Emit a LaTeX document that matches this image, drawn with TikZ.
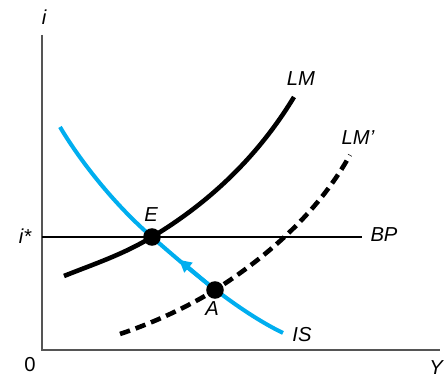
\documentclass[tikz,border=0pt]{standalone}
\usepackage{fontspec}
\setmainfont{Liberation Sans}
\usepackage{xcolor}
\usetikzlibrary{arrows.meta,calc}
\definecolor{iscyan}{RGB}{0,174,239}
\definecolor{axisgray}{RGB}{85,85,85}
\tikzset{
  curvelabel/.style={font=\fontsize{11.5}{13}\selectfont\itshape, inner sep=0pt},
  eqdot/.style={circle, fill=black, inner sep=0pt, minimum size=10pt},
  lmcurve/.style={line width=2.6pt},
  iscurve/.style={line width=2.3pt, iscyan}
}

\begin{document}
\begin{tikzpicture}[x=0.02cm, y=-0.02cm]
    \useasboundingbox (0,0) rectangle (444,377);
    % --- axes ---
    \coordinate (top) at (42,35);
    \coordinate (orig) at (42,350);
    \coordinate (right) at (440,350);
    \draw[axisgray, line width=1.2pt] (top) -- (orig) -- (right);
    \node[curvelabel] (ilab) at (44,17) {i};
    \node[curvelabel, font=\fontsize{11.5}{13}\selectfont] (zero) at (30,365) {0};
    \node[curvelabel] (ylab) at (436,368) {Y};

    % --- BP line at i* ---
    \coordinate (bpl) at (42,237);
    \coordinate (bpr) at (362,237);
    \draw[line width=1.2pt] (bpl) -- (bpr);
    \node[curvelabel] (istar) at (25,236) {i*};
    \node[curvelabel] (bplab) at (384,235) {BP};

    % --- the two equilibrium points ---
    \coordinate (E) at (152,237);
    \coordinate (A) at (215,290);

    % --- IS (blue) ---
    \coordinate (isl) at (60,127);
    \coordinate (isr) at (283,333);
    \draw[iscurve] (isl) .. controls (82,164) and (117,207) .. (E)
                         .. controls (192,272) and (238,311) .. (isr);
    \node[curvelabel] (islab) at (302,335) {IS};

    % --- LM and LM' ---
    \coordinate (lml) at (64,276);
    \coordinate (lmr) at (294,97);
    \draw[lmcurve] (lml) .. controls (94,264) and (122,255) .. (E)
                         .. controls (202,207) and (254,163) .. (lmr);
    \node[curvelabel] (lmlab) at (301,79) {LM};
    \coordinate (lmpl) at (120,334);
    \coordinate (lmpr) at (350,155);
    \draw[lmcurve, dash pattern=on 6pt off 3.4pt] (lmpl) .. controls (150,324) and (184,309) .. (A)
                         .. controls (259,262) and (315,218) .. (lmpr);
    \node[curvelabel] (lmplab) at (358,138) {LM’};

    % --- dots, labels and the move from A to E ---
    \node[eqdot] (edot) at (E) {};
    \node[eqdot] (adot) at (A) {};
    \node[curvelabel] (elab) at (151,215) {E};
    \node[curvelabel] (alab) at (212,309) {A};
    \coordinate (tip) at ($(adot)!0.57!(edot)$);
    \draw[iscyan, line width=2.3pt, -{Triangle[length=7pt, width=7pt]}] (adot) -- (tip);
\end{tikzpicture}
\end{document}
